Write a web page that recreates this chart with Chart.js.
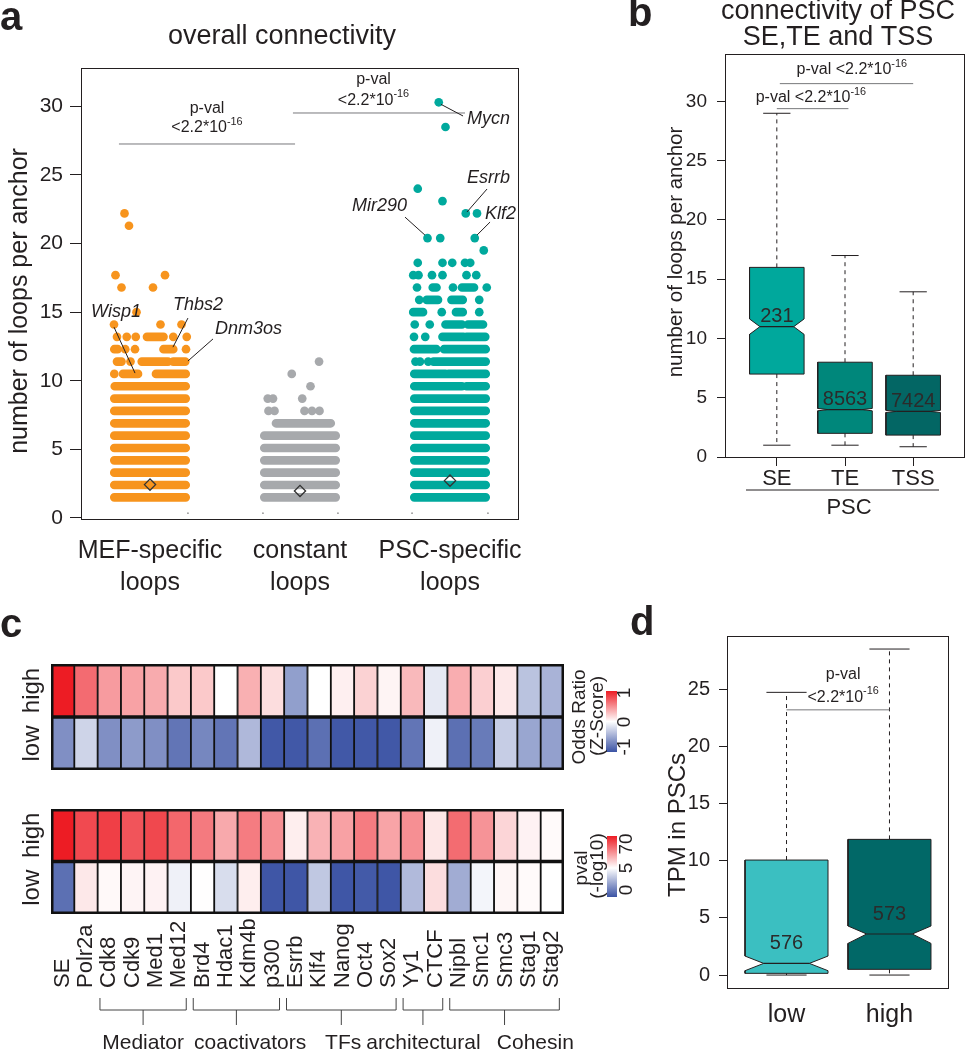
<!DOCTYPE html>
<html>
<head>
<meta charset="utf-8">
<script src="https://cdn.jsdelivr.net/npm/chart.js@4.4.1/dist/chart.umd.min.js"></script>
<style>
  body { margin: 0; background: #fff; width: 966px; height: 1050px; position: relative; overflow: hidden; }
  canvas { position: absolute; }
</style>
</head>
<body>
<canvas id="ca" style="left:0;top:0" width="540" height="600"></canvas>
<canvas id="cb" style="left:620px;top:0" width="346" height="540"></canvas>
<canvas id="cc1" style="left:0;top:600px" width="640" height="180"></canvas>
<canvas id="cc2" style="left:0;top:790px" width="640" height="260"></canvas>
<canvas id="cd" style="left:620px;top:600px" width="346" height="450"></canvas>
<script>
// ---- panel a: loops per anchor (strip chart) ----
const GROUP_X = [1, 2, 3];
const GROUP_LABELS = [['MEF-specific', 'loops'], ['constant', 'loops'], ['PSC-specific', 'loops']];
const A_TICKS = [0, 5, 10, 15, 20, 25, 30];
const MEANS_Y = [2.43, 1.97, 2.72];
// dense rows: [y, from x, to x]
const mefBands = [
  [1.5, 0.762, 1.238], [2.4, 0.762, 1.238], [3.3, 0.762, 1.238], [4.2, 0.762, 1.238], [5.1, 0.762, 1.238],
  [6.0, 0.762, 1.238], [6.9, 0.762, 1.238], [7.8, 0.762, 1.238], [8.7, 0.762, 1.238], [9.6, 0.765, 1.238],
  [10.5, 0.82, 0.92], [10.5, 1.04, 1.238], [11.4, 0.78, 0.81], [11.4, 0.945, 1.12], [11.4, 1.155, 1.235],
  [12.3, 0.762, 0.785], [12.3, 1.09, 1.155], [13.2, 0.98, 1.09]
];
const mefDots = [
  [0.762, 10.5], [0.87, 11.4], [0.835, 12.3], [0.90, 12.3], [1.24, 12.3], [0.78, 13.2], [0.845, 13.2],
  [0.905, 13.2], [1.155, 13.2], [1.245, 13.2], [0.76, 14.1], [1.07, 14.1], [1.21, 14.1], [0.91, 15.0],
  [0.81, 16.8], [1.02, 16.8], [0.77, 17.7], [1.10, 17.7], [0.86, 21.3], [0.83, 22.2]
];
const conBands = [
  [1.5, 1.762, 2.238], [2.4, 1.762, 2.238], [3.3, 1.762, 2.238], [4.2, 1.762, 2.238], [5.1, 1.762, 2.238],
  [6.0, 1.762, 2.238], [6.9, 1.84, 2.205]
];
const conDots = [
  [1.79, 7.8], [1.83, 7.8], [2.03, 7.8], [2.08, 7.8], [2.13, 7.8], [1.785, 8.7], [1.82, 8.7], [2.015, 8.7],
  [2.07, 9.6], [1.945, 10.5], [2.127, 11.4]
];
const pscBands = [
  [1.5, 2.762, 3.238], [2.4, 2.762, 3.238], [3.3, 2.762, 3.238], [4.2, 2.762, 3.238], [5.1, 2.762, 3.238],
  [6.0, 2.762, 3.238], [6.9, 2.762, 3.238], [7.8, 2.762, 3.238], [8.7, 2.762, 3.238],
  [9.6, 2.762, 3.08], [9.6, 3.11, 3.238], [10.5, 2.762, 2.97], [10.5, 2.99, 3.238], [11.4, 2.89, 3.238],
  [12.3, 2.76, 2.91], [12.3, 2.96, 3.238], [13.2, 2.95, 3.09], [13.2, 3.11, 3.235], [14.1, 2.97, 3.08],
  [14.1, 3.12, 3.22], [15.0, 2.755, 2.82], [15.0, 3.04, 3.085], [15.9, 2.845, 2.92], [15.9, 3.01, 3.085],
  [16.8, 2.885, 2.91], [16.8, 3.08, 3.16]
];
const pscDots = [
  [2.77, 11.4], [2.80, 11.4], [2.855, 11.4], [2.76, 13.2], [2.835, 13.2], [2.765, 14.1], [2.865, 14.1],
  [2.945, 15.0], [3.195, 15.0], [2.795, 15.9], [3.195, 15.9], [2.78, 16.8], [3.02, 16.8], [3.245, 16.8],
  [2.755, 17.7], [2.79, 17.7], [2.88, 17.7], [2.95, 17.7], [3.11, 17.7], [3.175, 17.7], [2.785, 18.6],
  [2.95, 18.6], [3.015, 18.6], [3.10, 18.6], [3.135, 18.6], [3.225, 19.5], [2.85, 20.4], [2.935, 20.4],
  [3.165, 20.4], [3.105, 22.2], [3.18, 22.2], [2.95, 23.1], [2.785, 24.0], [2.97, 28.5], [2.925, 30.3]
];
const AXIS_SPECKS = [1.253, 1.753, 2.253, 2.747, 3.253];
const GENE_TAGS = ['Mycn', 'Esrrb', 'Klf2', 'Mir290', 'Wisp1', 'Thbs2', 'Dnm3os'];

// ---- panel b: PSC SE / TE / TSS ----
const B_CATS = ['SE', 'TE', 'TSS'];
const B_TICKS = [0, 5, 10, 15, 20, 25, 30];
const bQ1 = [7.0, 2.0, 1.85];
const bMed = [11.0, 4.0, 3.85];
const bQ3 = [16.0, 8.0, 6.9];
const bNotchLo = [10.35, 3.9, 3.76];
const bNotchHi = [11.65, 4.1, 3.94];
const bLow = [1.0, 1.0, 0.87];
const bHigh = [29.0, 17.0, 13.94];
const bCounts = ['231', '8563', '7424'];

// ---- panel c: heatmaps ----
const COLS = ['SE', 'Polr2a', 'Cdk8', 'Cdk9', 'Med1', 'Med12', 'Brd4', 'Hdac1', 'Kdm4b', 'p300', 'Esrrb',
  'Klf4', 'Nanog', 'Oct4', 'Sox2', 'Yy1', 'CTCF', 'Nipbl', 'Smc1', 'Smc3', 'Stag1', 'Stag2'];
const orHigh = [1.0, 0.65, 0.44, 0.41, 0.37, 0.24, 0.24, 0.0, 0.35, 0.15, -0.56, 0.0, 0.07, 0.2, 0.05, 0.31,
  -0.13, 0.36, 0.21, 0.1, -0.35, -0.44];
const orLow = [-0.65, -0.25, -0.65, -0.58, -0.65, -0.8, -0.7, -0.8, -0.41, -0.97, -0.97, -0.83, -0.97, -0.97,
  -0.97, -0.8, -0.08, -0.83, -0.77, -0.29, -0.52, -0.55];
const pvHigh = [70, 57, 60, 54, 57.5, 48.5, 43, 29.6, 42.5, 37, 10, 27, 32, 42.5, 31, 37, 12, 47, 36, 17, 8.7, 6.4];
const pvLow = [0.85, 11.6, 6.7, 8.1, 8.7, 4.6, 5.2, 4.0, 9.9, 0.1, 0.1, 3.4, 0.1, 0.2, 0.1, 3.0, 14.7, 2.6, 4.7,
  7.6, 6.4, 5.0];
const GROUP_NAMES = ['Mediator', 'coactivators', 'TFs', 'architectural', 'Cohesin'];
const GROUP_FIRST = [2, 6, 10, 15, 17];
const GROUP_LAST = [5, 9, 14, 16, 21];

// ---- panel d: TPM in PSCs ----
const D_CATS = ['low', 'high'];
const D_TICKS = [0, 5, 10, 15, 20, 25];
const dQ1 = [0.15, 0.5];
const dMed = [1.02, 3.59];
const dQ3 = [10.06, 11.87];
const dNotchLo = [0.38, 2.77];
const dNotchHi = [1.66, 4.29];
const dLow = [0, 0];
const dHigh = [24.73, 28.52];
const dCounts = ['576', '573'];

// ---- style ----
const INK = '#231F20', GRAY = '#77787b';
const FONT = '"Liberation Sans", Arial, Helvetica, sans-serif';
const A_COLORS = ['#F7941D', '#A7A9AC', '#00A99D'];
const B_COLORS = ['#00A89C', '#00877B', '#036664'];
const D_COLORS = ['#3BBFC1', '#016867'];
const RED = [237, 28, 36], BLUE = [59, 83, 164], WHITE = [255, 255, 255];

Chart.defaults.font.family = FONT;
Chart.defaults.color = INK;
Chart.defaults.animation = false;
Chart.defaults.events = [];
Chart.defaults.plugins.legend.display = false;
Chart.defaults.plugins.tooltip.enabled = false;

function mix(a, b, t) {
  return 'rgb(' + a.map((v, i) => Math.round(v + (b[i] - v) * t)).join(',') + ')';
}
const orColor = z => z >= 0 ? mix(WHITE, RED, Math.min(z, 1)) : mix(WHITE, BLUE, Math.min(-z, 1));
const pvColor = p => p >= 5 ? mix(WHITE, RED, Math.min((p - 5) / 65, 1)) : mix(WHITE, BLUE, (5 - p) / 5);

function txt(ctx, s, x, y, size, o = {}) {
  ctx.save();
  ctx.font = `${o.style || 'normal'} ${o.weight || 'normal'} ${size}px ${FONT}`;
  ctx.fillStyle = o.color || INK;
  ctx.textAlign = o.align || 'center';
  ctx.textBaseline = o.base || 'middle';
  ctx.translate(x, y);
  if (o.rot) ctx.rotate(o.rot);
  ctx.fillText(s, 0, 0);
  ctx.restore();
}
function sci(ctx, pre, x, y, size) {
  const sup = '-16', ss = size * 0.68;
  ctx.save();
  ctx.font = `${size}px ${FONT}`; const w1 = ctx.measureText(pre).width;
  ctx.font = `${ss}px ${FONT}`; const w2 = ctx.measureText(sup).width;
  const x0 = x - (w1 + w2) / 2;
  ctx.fillStyle = INK; ctx.textBaseline = 'middle'; ctx.textAlign = 'left';
  ctx.font = `${size}px ${FONT}`; ctx.fillText(pre, x0, y);
  ctx.font = `${ss}px ${FONT}`; ctx.fillText(sup, x0 + w1, y - size * 0.4);
  ctx.restore();
}
function seg(ctx, x1, y1, x2, y2, color, w) {
  ctx.save(); ctx.strokeStyle = color; ctx.lineWidth = w || 1;
  ctx.beginPath(); ctx.moveTo(x1, y1); ctx.lineTo(x2, y2); ctx.stroke(); ctx.restore();
}
function frame(c, w, color) {
  const a = c.chartArea, ctx = c.ctx;
  ctx.save(); ctx.strokeStyle = color || INK; ctx.lineWidth = w;
  ctx.strokeRect(a.left + w / 2, a.top + w / 2, a.right - a.left - w, a.bottom - a.top - w);
  ctx.restore();
}
const rot = -Math.PI / 2;

// line segments with gaps between them
function segs(list) {
  const d = [];
  list.forEach(([x1, y1, x2, y2]) => d.push({x: x1, y: y1}, {x: x2, y: y2}, {x: x2, y: null}));
  return d;
}
function lineSet(data, color, width, extra) {
  return Object.assign({type: 'line', data, borderColor: color, borderWidth: width, pointRadius: 0,
    fill: false, tension: 0, spanGaps: false}, extra);
}
function yAxis(min, max, ticks, width, size, tickLen, pad) {
  return {type: 'linear', min, max,
    afterBuildTicks: s => { s.ticks = ticks.map(v => ({value: v})); },
    afterFit: s => { s.width = width; },
    ticks: {font: {size}, color: INK, padding: pad},
    grid: {drawOnChartArea: false, tickLength: tickLen, color: INK, tickColor: INK, lineWidth: 1},
    border: {display: false}};
}
function xAxis(min, max, xs, labels, height, size, pad, tickLen, lh) {
  return {type: 'linear', min, max,
    afterBuildTicks: s => { s.ticks = xs.map(v => ({value: v})); },
    afterFit: s => { s.height = height; },
    ticks: {callback: (v, i) => labels[i], font: {size, lineHeight: lh || 1.2}, color: INK, padding: pad,
      autoSkip: false, maxRotation: 0},
    grid: tickLen ? {drawOnChartArea: false, tickLength: tickLen, color: INK, lineWidth: 1}
                  : {display: false, drawTicks: false},
    border: {display: false}};
}

// notched boxplot out of line datasets
function boxSets(xs, q1, med, q3, nlo, nhi, lo, hi, fills, w, k, cw) {
  const sets = [];
  xs.forEach((x, i) => {
    const poly = [[x - w, q1[i]], [x + w, q1[i]], [x + w, nlo[i]], [x + k * w, med[i]], [x + w, nhi[i]],
      [x + w, q3[i]], [x - w, q3[i]], [x - w, nhi[i]], [x - k * w, med[i]], [x - w, nlo[i]], [x - w, q1[i]]]
      .map(([a, b]) => ({x: a, y: b}));
    sets.push(lineSet(poly, INK, 1, {backgroundColor: fills[i], fill: 'shape', order: 2}));
  });
  const medSeg = [], dash = [], caps = [];
  xs.forEach((x, i) => {
    medSeg.push([x - k * w, med[i], x + k * w, med[i]]);
    dash.push([x, q3[i], x, hi[i]], [x, q1[i], x, lo[i]]);
    caps.push([x - cw, hi[i], x + cw, hi[i]], [x - cw, lo[i], x + cw, lo[i]]);
  });
  sets.push(lineSet(segs(medSeg), INK, 1.2, {order: 1}));
  sets.push(lineSet(segs(dash), INK, 1, {borderDash: [4, 4], order: 3}));
  sets.push(lineSet(segs(caps), INK, 1, {order: 3}));
  return sets;
}

// ================= panel a =================
const bandData = bands => segs(bands.map(([y, a, b]) => [a, y, b, y]));
const dotData = dots => dots.map(([x, y]) => ({x, y}));
const bandOpts = {borderCapStyle: 'round', borderJoinStyle: 'round'};

new Chart(document.getElementById('ca'), {
  type: 'scatter',
  data: {datasets: [
    {data: MEANS_Y.map((y, i) => ({x: GROUP_X[i], y})), pointStyle: 'rectRot', pointRadius: 5.6,
      backgroundColor: 'rgba(0,0,0,0)', borderColor: '#333', borderWidth: 1.3},
    {data: dotData(mefDots), pointRadius: 4.35, backgroundColor: A_COLORS[0], borderWidth: 0},
    lineSet(bandData(mefBands), A_COLORS[0], 8.7, bandOpts),
    {data: dotData(conDots), pointRadius: 4.35, backgroundColor: A_COLORS[1], borderWidth: 0},
    lineSet(bandData(conBands), A_COLORS[1], 8.7, bandOpts),
    {data: dotData(pscDots), pointRadius: 4.35, backgroundColor: A_COLORS[2], borderWidth: 0},
    lineSet(bandData(pscBands), A_COLORS[2], 8.7, bandOpts),
    {data: AXIS_SPECKS.map(x => ({x, y: 0.35})), pointRadius: 0.9, backgroundColor: '#999', borderWidth: 0}
  ]},
  options: {
    responsive: false,
    layout: {padding: {left: 0, top: 68, right: 21, bottom: 0}},
    scales: {
      x: xAxis(0.54, 3.46, GROUP_X, GROUP_LABELS, 80, 25, 15, 0, 1.28),
      y: yAxis(-0.15, 32.8, A_TICKS, 81, 21, 11, 7)
    }
  },
  plugins: [{id: 'annoA', afterDraw(c) {
    const ctx = c.ctx, X = v => c.scales.x.getPixelForValue(v), Y = v => c.scales.y.getPixelForValue(v);
    frame(c, 1);
    txt(ctx, 'a', 0, 30, 40, {weight: 'bold', align: 'left', base: 'alphabetic'});
    txt(ctx, 'overall connectivity', 282, 37, 27);
    txt(ctx, 'number of loops per anchor', 20, 301, 25, {rot});
    // p-values
    seg(ctx, X(0.793), Y(27.26), X(1.967), Y(27.26), GRAY);
    txt(ctx, 'p-val', X(1.38), Y(29.81), 16);
    sci(ctx, '<2.2*10', X(1.38), Y(28.42), 16);
    seg(ctx, X(1.953), Y(29.52), X(3.10), Y(29.52), GRAY);
    txt(ctx, 'p-val', X(2.49), Y(31.92), 16);
    sci(ctx, '<2.2*10', X(2.49), Y(30.46), 16);
    // gene tags: label anchor, leader line
    const tags = [
      [3.113, 29.08, 'left', 2.94, 30.15, 3.087, 29.3],
      [3.113, 24.78, 'left', 3.247, 23.98, 3.113, 22.3],
      [3.233, 22.15, 'left', 3.267, 21.57, 3.18, 20.62],
      [2.713, 22.74, 'right', 2.70, 21.93, 2.833, 20.62],
      [0.607, 15.01, 'left', 0.76, 13.91, 0.9, 10.56],
      [1.153, 15.52, 'left', 1.253, 14.57, 1.153, 12.45],
      [1.433, 13.77, 'left', 1.42, 13.05, 1.253, 11.44]
    ];
    tags.forEach((t, i) => {
      seg(ctx, X(t[3]), Y(t[4]), X(t[5]), Y(t[6]), INK, 1);
      txt(ctx, GENE_TAGS[i], X(t[0]), Y(t[1]), 18, {style: 'italic', align: t[2]});
    });
  }}]
});

// ================= panel b =================
new Chart(document.getElementById('cb'), {
  type: 'scatter',
  data: {datasets: boxSets([1, 2, 3], bQ1, bMed, bQ3, bNotchLo, bNotchHi, bLow, bHigh, B_COLORS, 0.4, 0.62, 0.2)},
  options: {
    responsive: false,
    layout: {padding: {left: 0, top: 54, right: 1, bottom: 0}},
    scales: {
      x: xAxis(0.24, 3.76, [1, 2, 3], B_CATS, 82, 22, 0, 8),
      y: yAxis(-0.08, 34.0, B_TICKS, 105, 19, 8, 10)
    }
  },
  plugins: [{id: 'annoB', afterDraw(c) {
    const ctx = c.ctx, X = v => c.scales.x.getPixelForValue(v), Y = v => c.scales.y.getPixelForValue(v);
    frame(c, 1);
    txt(ctx, 'b', 8, 26, 40, {weight: 'bold', align: 'left', base: 'alphabetic'});
    txt(ctx, 'connectivity of PSC', 218, 19, 27, {base: 'alphabetic'});
    txt(ctx, 'SE,TE and TSS', 218, 45, 27, {base: 'alphabetic'});
    txt(ctx, 'number of loops per anchor', 56, 252, 20.5, {rot});
    bCounts.forEach((n, i) => txt(ctx, n, X(i + 1), Y(bMed[i]) - 10, 20, {color: '#2b2b2b'}));
    seg(ctx, X(1), Y(29.39), X(2.05), Y(29.39), GRAY);
    sci(ctx, 'p-val <2.2*10', X(1.5), Y(30.29), 16);
    seg(ctx, X(1.044), Y(31.5), X(3), Y(31.5), GRAY);
    sci(ctx, 'p-val <2.2*10', X(2.1), Y(32.65), 16);
    seg(ctx, 126, 490, 319, 490, INK, 1);
    txt(ctx, 'PSC', 229, 508, 22);
  }}]
});

// ================= panel c =================
function heatChart(id, high, low, colorFn, pad, extra) {
  return new Chart(document.getElementById(id), {
    type: 'bar',
    data: {labels: COLS, datasets: [
      {data: COLS.map(() => 1), backgroundColor: low.map(colorFn)},
      {data: COLS.map(() => 1), backgroundColor: high.map(colorFn)}
    ]},
    options: {
      responsive: false,
      layout: {padding: pad},
      datasets: {bar: {barPercentage: 1, categoryPercentage: 1, borderColor: '#111', borderWidth: 1.25,
        borderSkipped: false}},
      scales: {
        x: {display: false, stacked: true},
        y: {display: false, stacked: true, min: 0, max: 2}
      }
    },
    plugins: [{id: 'heat' + id, afterDraw(c) {
      const ctx = c.ctx, a = c.chartArea, Y = v => c.scales.y.getPixelForValue(v);
      seg(ctx, a.left, Y(1), a.right, Y(1), '#111', 3.5);
      frame(c, 2.5, '#111');
      txt(ctx, 'high', 32, Y(1.5), 24, {rot});
      txt(ctx, 'low', 32, Y(0.5), 24, {rot});
      extra(c, ctx);
    }}]
  });
}
function colorBar(ctx, x, top, w, h, whiteAt) {
  const g = ctx.createLinearGradient(0, top, 0, top + h);
  g.addColorStop(0, mix(RED, RED, 0));
  g.addColorStop(whiteAt, '#fff');
  g.addColorStop(1, mix(BLUE, BLUE, 0));
  ctx.save(); ctx.fillStyle = g; ctx.fillRect(x, top, w, h); ctx.restore();
}

heatChart('cc1', orHigh, orLow, orColor, {left: 51, top: 64, right: 76, bottom: 10}, (c, ctx) => {
  txt(ctx, 'c', 0, 37, 40, {weight: 'bold', align: 'left', base: 'alphabetic'});
  colorBar(ctx, 606, 91, 11, 61, 0.5);
  txt(ctx, 'Odds Ratio', 580, 117, 19, {rot});
  txt(ctx, '(Z-Score)', 598, 116, 19, {rot});
  txt(ctx, '1', 625, 93, 19, {rot});
  txt(ctx, '0', 625, 122, 19, {rot});
  txt(ctx, '-1', 625, 147, 19, {rot});
});

heatChart('cc2', pvHigh, pvLow, pvColor, {left: 51, top: 19, right: 76, bottom: 136}, (c, ctx) => {
  const x0 = c.scales.x.getPixelForValue(0), cw = c.scales.x.getPixelForValue(1) - x0;
  const CX = v => x0 + v * cw;
  colorBar(ctx, 607, 46, 10, 61, 0.525);
  txt(ctx, 'pval', 582, 78, 19, {rot});
  txt(ctx, '(-log10)', 598, 76, 19, {rot});
  txt(ctx, '70', 627, 54, 19, {rot});
  txt(ctx, '5', 627, 78, 19, {rot});
  txt(ctx, '0', 627, 100, 19, {rot});
  COLS.forEach((s, i) => txt(ctx, s, CX(i), 198, 22, {rot, align: 'left'}));
  const labelAt = [3.45, 8.04, 12.03, 15.47, 20.27];
  GROUP_NAMES.forEach((g, i) => {
    const l = CX(GROUP_FIRST[i] - 0.4), r = CX(GROUP_LAST[i] + 0.3), m = (l + r) / 2;
    ctx.save(); ctx.strokeStyle = '#444'; ctx.lineWidth = 1;
    ctx.beginPath();
    ctx.moveTo(l, 208); ctx.lineTo(l, 220); ctx.lineTo(r, 220); ctx.lineTo(r, 208);
    ctx.moveTo(m, 220); ctx.lineTo(m, 235);
    ctx.stroke(); ctx.restore();
    txt(ctx, g, CX(labelAt[i]), 253, 21);
  });
});

// ================= panel d =================
new Chart(document.getElementById('cd'), {
  type: 'scatter',
  data: {datasets: boxSets([1, 2], dQ1, dMed, dQ3, dNotchLo, dNotchHi, dLow, dHigh, D_COLORS, 0.403, 0.55, 0.195)},
  options: {
    responsive: false,
    layout: {padding: {left: 0, top: 36, right: 17, bottom: 0}},
    scales: {
      x: xAxis(0.422, 2.578, [1, 2], D_CATS, 61, 25, 11, 0),
      y: yAxis(-1.22, 29.66, D_TICKS, 107, 20, 8, 9)
    }
  },
  plugins: [{id: 'annoD', afterDraw(c) {
    const ctx = c.ctx, X = v => c.scales.x.getPixelForValue(v), Y = v => c.scales.y.getPixelForValue(v);
    frame(c, 1);
    txt(ctx, 'd', 10, 35, 40, {weight: 'bold', align: 'left', base: 'alphabetic'});
    txt(ctx, 'TPM in PSCs', 58, 225, 24, {rot});
    dCounts.forEach((n, i) => txt(ctx, n, X(i + 1), Y(dMed[i]) - 20, 20, {color: '#2b2b2b'}));
    seg(ctx, X(1), Y(23.2), X(2), Y(23.2), GRAY);
    txt(ctx, 'p-val', X(1.55), Y(26.25), 16);
    sci(ctx, '<2.2*10', X(1.55), Y(24.3), 16);
  }}]
});
</script>
</body>
</html>
